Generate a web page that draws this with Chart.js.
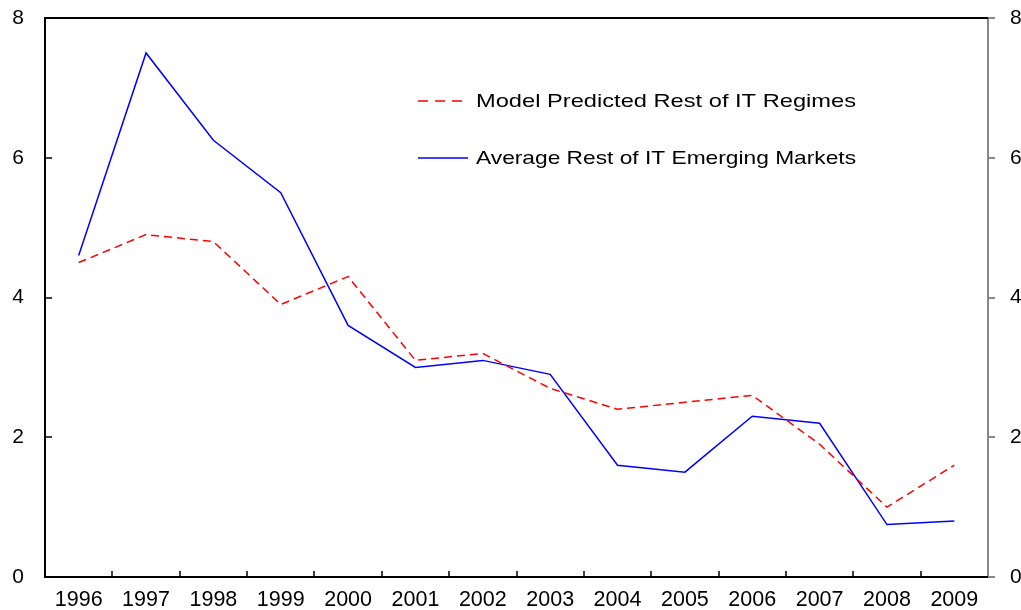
<!DOCTYPE html>
<html>
<head>
<meta charset="utf-8">
<script src="https://cdn.jsdelivr.net/npm/chart.js@4"></script>
<style>
  html, body { margin: 0; padding: 0; background: #fff; }
  #wrap { width: 1021px; height: 610px; }
</style>
</head>
<body>
<div id="wrap"><canvas id="chart" width="1021" height="610"></canvas></div>
<script>
// categories and series
const years = ['1996', '1997', '1998', '1999', '2000', '2001', '2002', '2003', '2004', '2005', '2006', '2007', '2008', '2009'];
const modelPredicted = [4.5, 4.9, 4.8, 3.9, 4.3, 3.1, 3.2, 2.7, 2.4, 2.5, 2.6, 1.9, 1.0, 1.6];
const averageEmerging = [4.6, 7.5, 6.25, 5.5, 3.6, 3.0, 3.1, 2.9, 1.6, 1.5, 2.3, 2.2, 0.75, 0.8];
const yTicks = [0, 2, 4, 6, 8];
const seriesNames = ['Model Predicted Rest of IT Regimes', 'Average Rest of IT Emerging Markets'];

const FONT = 'Liberation Sans, Arial, sans-serif';

// frame, inward/outward tick marks
const framePlugin = {
    id: 'frame',
    afterDatasetsDraw(chart) {
        const { ctx, chartArea: a, scales } = chart;
        const x = scales.x, y = scales.y;
        ctx.save();
        ctx.lineWidth = 2;
        // right axis (grey)
        ctx.strokeStyle = '#888';
        ctx.beginPath();
        ctx.moveTo(a.right, a.top);
        ctx.lineTo(a.right, a.bottom);
        yTicks.forEach(v => {
            const py = Math.round(y.getPixelForValue(v));
            ctx.moveTo(a.right, py);
            ctx.lineTo(a.right + 7, py);
        });
        ctx.stroke();
        // left, top, bottom (black)
        ctx.strokeStyle = '#000';
        ctx.beginPath();
        ctx.moveTo(a.right, a.top);
        ctx.lineTo(a.left, a.top);
        ctx.lineTo(a.left, a.bottom);
        ctx.lineTo(a.right, a.bottom);
        ctx.stroke();
        ctx.lineWidth = 1.5;
        ctx.beginPath();
        yTicks.forEach(v => {
            const py = Math.round(y.getPixelForValue(v));
            ctx.moveTo(a.left, py);
            ctx.lineTo(a.left + 7, py);
        });
        const half = (x.getPixelForValue(1) - x.getPixelForValue(0)) / 2;
        for (let i = 0; i < years.length - 1; i++) {
            const px = Math.round(x.getPixelForValue(i) + half);
            ctx.moveTo(px, a.bottom);
            ctx.lineTo(px, a.bottom - 6);
        }
        ctx.stroke();
        ctx.restore();
    }
};

// legend inside the plot, text stretched like the original
const innerLegend = {
    id: 'innerLegend',
    afterDraw(chart) {
        const { ctx } = chart;
        const drawLabel = (text, tx, ty, w) => {
            const sx = w / ctx.measureText(text).width;
            ctx.save();
            ctx.translate(tx, ty);
            ctx.scale(sx, 1);
            ctx.fillText(text, 0, 0);
            ctx.restore();
        };
        ctx.save();
        ctx.font = '19px ' + FONT;
        ctx.fillStyle = '#000';
        ctx.textBaseline = 'middle';
        ctx.lineWidth = 1.5;

        ctx.strokeStyle = '#ff0000';
        ctx.setLineDash([10, 7]);
        ctx.beginPath();
        ctx.moveTo(418, 101);
        ctx.lineTo(462, 101);
        ctx.stroke();
        drawLabel(seriesNames[0], 476, 102, 380);

        ctx.strokeStyle = '#0000ff';
        ctx.setLineDash([]);
        ctx.beginPath();
        ctx.moveTo(418, 158);
        ctx.lineTo(468, 158);
        ctx.stroke();
        drawLabel(seriesNames[1], 476, 159, 380);
        ctx.restore();
    }
};

const ctx = document.getElementById('chart').getContext('2d');
new Chart(ctx, {
    type: 'line',
    data: {
        labels: years,
        datasets: [
            {
                label: seriesNames[0],
                data: modelPredicted,
                borderColor: '#ff0000',
                borderWidth: 1.5,
                borderDash: [8, 5],
                pointRadius: 0,
                tension: 0,
                fill: false
            },
            {
                label: seriesNames[1],
                data: averageEmerging,
                borderColor: '#0000ff',
                borderWidth: 1.5,
                pointRadius: 0,
                tension: 0,
                fill: false
            }
        ]
    },
    options: {
        responsive: false,
        animation: false,
        layout: { padding: 0 },
        plugins: {
            legend: { display: false },
            tooltip: { enabled: false }
        },
        scales: {
            x: {
                offset: true,
                grid: { display: false, drawTicks: false },
                border: { display: false },
                ticks: {
                    color: '#000',
                    font: { family: FONT, size: 21.5 },
                    padding: 10,
                    maxRotation: 0,
                    autoSkip: false
                },
                afterFit: s => { s.height = 33; s.paddingLeft = 0; s.paddingRight = 0; }
            },
            y: {
                position: 'left',
                min: 0,
                max: 8,
                grid: { display: false, drawTicks: false },
                border: { display: false },
                ticks: {
                    stepSize: 2,
                    color: '#000',
                    font: { family: FONT, size: 21 },
                    padding: 21
                },
                afterFit: s => { s.width = 45; s.paddingTop = 18; s.paddingBottom = 0; }
            },
            y2: {
                position: 'right',
                min: 0,
                max: 8,
                grid: { display: false, drawTicks: false },
                border: { display: false },
                ticks: {
                    stepSize: 2,
                    color: '#000',
                    font: { family: FONT, size: 21 },
                    padding: 22
                },
                afterFit: s => { s.width = 33; s.paddingTop = 18; s.paddingBottom = 0; }
            }
        }
    },
    plugins: [framePlugin, innerLegend]
});
</script>
</body>
</html>
